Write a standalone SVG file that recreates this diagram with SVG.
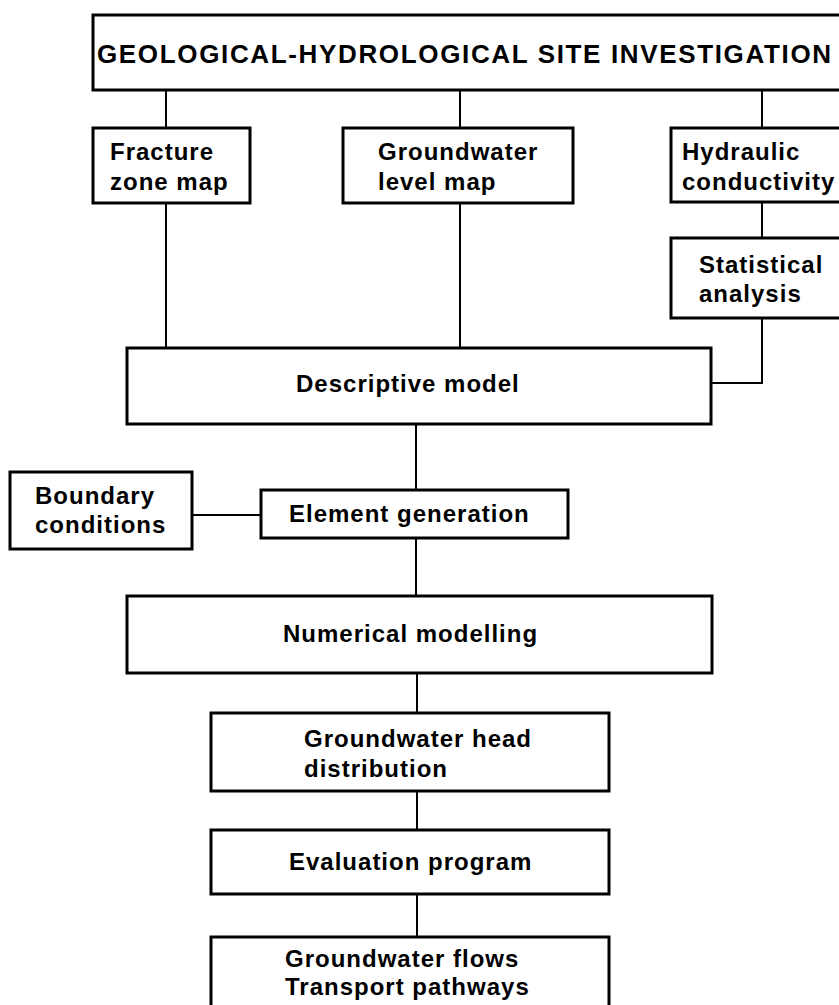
<svg xmlns="http://www.w3.org/2000/svg" width="839" height="1005" viewBox="0 0 839 1005">
<style>
.box{fill:#fff;stroke:#000;stroke-width:3}
.t{font-family:"Liberation Sans",Arial,sans-serif;font-weight:bold;font-size:24px;letter-spacing:1px;fill:#000}
.title{font-size:26px;letter-spacing:1.65px}
.c{fill:none;stroke:#000;stroke-width:2}
</style>
<rect width="839" height="1005" fill="#fff"/>
<g id="connectors">
<path class="c" d="M166 90V128M166 203V348"/>
<path class="c" d="M460 90V128M460 203V348"/>
<path class="c" d="M762 90V128M762 202V238M762 318V383H711"/>
<path class="c" d="M416 424V490M416 538V596M417 673V713M417 791V830M417 894V937"/>
<path class="c" d="M192 515H261"/>
</g>
<g id="site-investigation"><rect class="box" x="93" y="15" width="760" height="75"/><text class="t title" x="97" y="63">GEOLOGICAL-HYDROLOGICAL SITE INVESTIGATION</text></g>
<g id="fracture-zone-map"><rect class="box" x="93" y="128" width="157" height="75"/><text class="t" x="110" y="160">Fracture</text><text class="t" x="110" y="190">zone map</text></g>
<g id="groundwater-level-map"><rect class="box" x="343" y="128" width="230" height="75"/><text class="t" x="378" y="160">Groundwater</text><text class="t" x="378" y="190">level map</text></g>
<g id="hydraulic-conductivity"><rect class="box" x="671" y="128" width="180" height="74"/><text class="t" x="682" y="160">Hydraulic</text><text class="t" x="682" y="190">conductivity</text></g>
<g id="statistical-analysis"><rect class="box" x="671" y="238" width="180" height="80"/><text class="t" x="699" y="273">Statistical</text><text class="t" x="699" y="302">analysis</text></g>
<g id="descriptive-model"><rect class="box" x="127" y="348" width="584" height="76"/><text class="t" x="296" y="392">Descriptive model</text></g>
<g id="boundary-conditions"><rect class="box" x="10" y="472" width="182" height="77"/><text class="t" x="35" y="504">Boundary</text><text class="t" x="35" y="533">conditions</text></g>
<g id="element-generation"><rect class="box" x="261" y="490" width="307" height="48"/><text class="t" x="289" y="522">Element generation</text></g>
<g id="numerical-modelling"><rect class="box" x="127" y="596" width="585" height="77"/><text class="t" x="283" y="642">Numerical modelling</text></g>
<g id="groundwater-head"><rect class="box" x="211" y="713" width="398" height="78"/><text class="t" x="304" y="747">Groundwater head</text><text class="t" x="304" y="777">distribution</text></g>
<g id="evaluation-program"><rect class="box" x="211" y="830" width="398" height="64"/><text class="t" x="289" y="870">Evaluation program</text></g>
<g id="groundwater-flows"><rect class="box" x="211" y="937" width="398" height="80"/><text class="t" x="285" y="967">Groundwater flows</text><text class="t" x="285" y="995">Transport pathways</text></g>
</svg>
